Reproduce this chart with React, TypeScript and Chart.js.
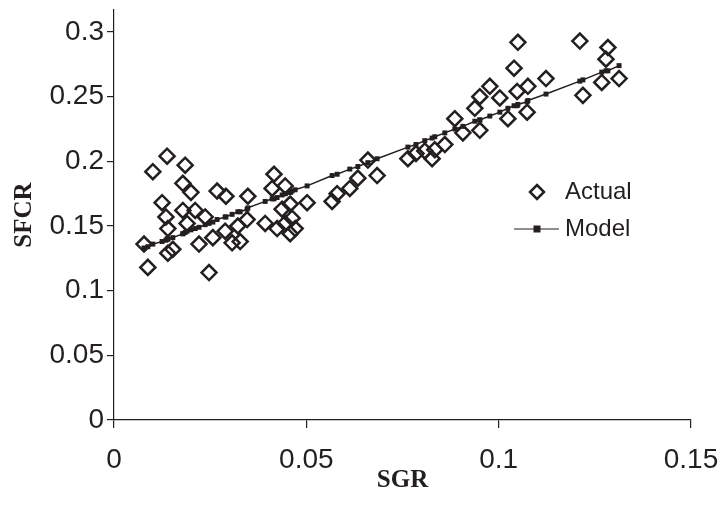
import React, { useEffect, useRef } from "react";
import { Chart, registerables } from "chart.js";

Chart.register(...registerables);

// SGR values (x) shared by observed and model series
const sgr = [
  0.0078, 0.0088, 0.0101, 0.0125, 0.0135, 0.0138, 0.014, 0.014, 0.0153, 0.0179,
  0.0179, 0.0185, 0.019, 0.02, 0.0211, 0.0221, 0.0237, 0.0247, 0.0257, 0.0268,
  0.0289, 0.0291, 0.0307, 0.0322, 0.0328, 0.0346, 0.0348, 0.0393, 0.0411, 0.0416,
  0.0424, 0.0437, 0.0445, 0.0445, 0.0458, 0.0458, 0.0463, 0.0471, 0.0502, 0.0567,
  0.058, 0.0613, 0.0634, 0.066, 0.0684, 0.0764, 0.0785, 0.0808, 0.0827, 0.0834,
  0.086, 0.0886, 0.0907, 0.0938, 0.0951, 0.0951, 0.0977, 0.1003, 0.1024, 0.104,
  0.1048, 0.105, 0.1074, 0.1076, 0.1123, 0.1211, 0.1219, 0.1268, 0.1279, 0.1284,
  0.1313,
];

// Actual SFCR values
const actual = [
  0.136, 0.118, 0.192, 0.168, 0.157, 0.204, 0.148, 0.129, 0.132, 0.183,
  0.162, 0.197, 0.152, 0.176, 0.162, 0.136, 0.157, 0.114, 0.141, 0.177,
  0.146, 0.173, 0.137, 0.15, 0.138, 0.155, 0.173, 0.152, 0.179, 0.19,
  0.148, 0.163, 0.181, 0.152, 0.167, 0.144, 0.156, 0.148, 0.168, 0.169,
  0.175, 0.179, 0.187, 0.201, 0.189, 0.202, 0.206, 0.208, 0.202, 0.209,
  0.213, 0.233, 0.222, 0.241, 0.224, 0.25, 0.258, 0.249, 0.233, 0.272,
  0.254, 0.292, 0.238, 0.258, 0.264, 0.293, 0.251, 0.261, 0.279, 0.288,
  0.264,
];

// Model SFCR values
const model = [
  0.133, 0.134, 0.136, 0.138, 0.139, 0.14, 0.14, 0.14, 0.141, 0.144,
  0.144, 0.145, 0.146, 0.147, 0.148, 0.149, 0.151, 0.152, 0.153, 0.155,
  0.157, 0.157, 0.159, 0.161, 0.161, 0.163, 0.164, 0.169, 0.171, 0.171,
  0.172, 0.174, 0.175, 0.175, 0.176, 0.176, 0.177, 0.178, 0.181, 0.189,
  0.19, 0.194, 0.196, 0.199, 0.202, 0.211, 0.213, 0.216, 0.218, 0.219,
  0.222, 0.225, 0.227, 0.231, 0.232, 0.232, 0.235, 0.238, 0.241, 0.243,
  0.243, 0.244, 0.246, 0.247, 0.252, 0.262, 0.263, 0.269, 0.27, 0.27,
  0.274,
];

const xTicks = [0, 0.05, 0.1, 0.15];
const yTicks = [0, 0.05, 0.1, 0.15, 0.2, 0.25, 0.3];
const seriesNames = ["Actual", "Model"];

const INK = "#231f20";
const SANS = "'Liberation Sans', Arial, sans-serif";
const TICK_FONT = { family: SANS, size: 28 };
const TITLE_FONT = { family: "'Liberation Serif', 'Times New Roman', serif", size: 25, weight: "bold" as const };

const fmt = (v: number) => String(Number(v.toFixed(3)));

const legendPlugin = {
  id: "customLegend",
  afterDraw(chart: any) {
    const ctx = chart.ctx as CanvasRenderingContext2D;
    ctx.save();
    ctx.strokeStyle = INK;
    ctx.fillStyle = INK;
    // Actual: hollow diamond
    const dx = 537, dy = 192, r = 7;
    ctx.lineWidth = 2.5;
    ctx.beginPath();
    ctx.moveTo(dx, dy - r);
    ctx.lineTo(dx + r, dy);
    ctx.lineTo(dx, dy + r);
    ctx.lineTo(dx - r, dy);
    ctx.closePath();
    ctx.stroke();
    // Model: line with square
    const my = 229;
    ctx.lineWidth = 1.2;
    ctx.beginPath();
    ctx.moveTo(514, my);
    ctx.lineTo(559, my);
    ctx.stroke();
    ctx.fillRect(537 - 3.5, my - 3.5, 7, 7);
    ctx.font = `24px ${SANS}`;
    ctx.textBaseline = "middle";
    ctx.textAlign = "left";
    ctx.fillText(seriesNames[0], 565, dy);
    ctx.fillText(seriesNames[1], 565, my);
    ctx.restore();
  },
};

export default function App() {
  const ref = useRef<HTMLCanvasElement | null>(null);

  useEffect(() => {
    document.body.style.margin = "0";
    if (!ref.current) return;
    const chart = new Chart(ref.current, {
      type: "scatter",
      data: {
        datasets: [
          {
            label: seriesNames[0],
            data: sgr.map((x, i) => ({ x, y: actual[i] })),
            showLine: false,
            pointStyle: "rectRot",
            pointRadius: 7.5,
            pointHoverRadius: 7.5,
            borderColor: INK,
            backgroundColor: "rgba(0,0,0,0)",
            pointBorderWidth: 2.5,
            borderWidth: 2.5,
            order: 2,
          },
          {
            label: seriesNames[1],
            data: sgr.map((x, i) => ({ x, y: model[i] })),
            showLine: true,
            pointStyle: "rect",
            pointRadius: 3.5,
            pointHoverRadius: 3.5,
            borderColor: INK,
            backgroundColor: INK,
            pointBackgroundColor: INK,
            borderWidth: 1.5,
            pointBorderWidth: 0,
            order: 1,
          },
        ],
      },
      options: {
        animation: false,
        responsive: false,
        maintainAspectRatio: false,
        layout: { padding: { left: 0, right: 29, top: 1, bottom: 0 } },
        plugins: { legend: { display: false }, tooltip: { enabled: false } },
        scales: {
          x: {
            type: "linear",
            min: 0,
            max: 0.15,
            afterBuildTicks: (s: any) => {
              s.ticks = xTicks.map((v) => ({ value: v }));
            },
            afterFit: (s: any) => {
              s.height = 96;
              s.paddingLeft = 0;
              s.paddingRight = 0;
            },
            ticks: {
              color: INK,
              font: TICK_FONT,
              padding: 15,
              maxRotation: 0,
              callback: (v: any) => fmt(Number(v)),
            },
            grid: { display: true, drawOnChartArea: false, drawTicks: true, tickLength: 8, color: INK, lineWidth: 1.2 },
            border: { display: true, color: INK, width: 1.2 },
            title: { display: true, text: "SGR", color: INK, font: TITLE_FONT, padding: { top: 0, bottom: 20 } },
          },
          y: {
            type: "linear",
            min: 0,
            max: 0.317,
            afterBuildTicks: (s: any) => {
              s.ticks = yTicks.map((v) => ({ value: v }));
            },
            afterFit: (s: any) => {
              s.width = 114;
              s.paddingTop = 0;
              s.paddingBottom = 0;
            },
            ticks: {
              color: INK,
              font: TICK_FONT,
              padding: 3,
              callback: (v: any) => fmt(Number(v)),
            },
            grid: { display: true, drawOnChartArea: false, drawTicks: true, tickLength: 7, color: INK, lineWidth: 1.2 },
            border: { display: true, color: INK, width: 1.2 },
            title: { display: true, text: "SFCR", color: INK, font: TITLE_FONT, padding: { top: 10, bottom: 0 } },
          },
        },
      },
      plugins: [legendPlugin],
    });
    return () => chart.destroy();
  }, []);

  return (
    <div style={{ width: 720, height: 516, background: "#fff" }}>
      <canvas ref={ref} width={720} height={516} style={{ display: "block" }} />
    </div>
  );
}
